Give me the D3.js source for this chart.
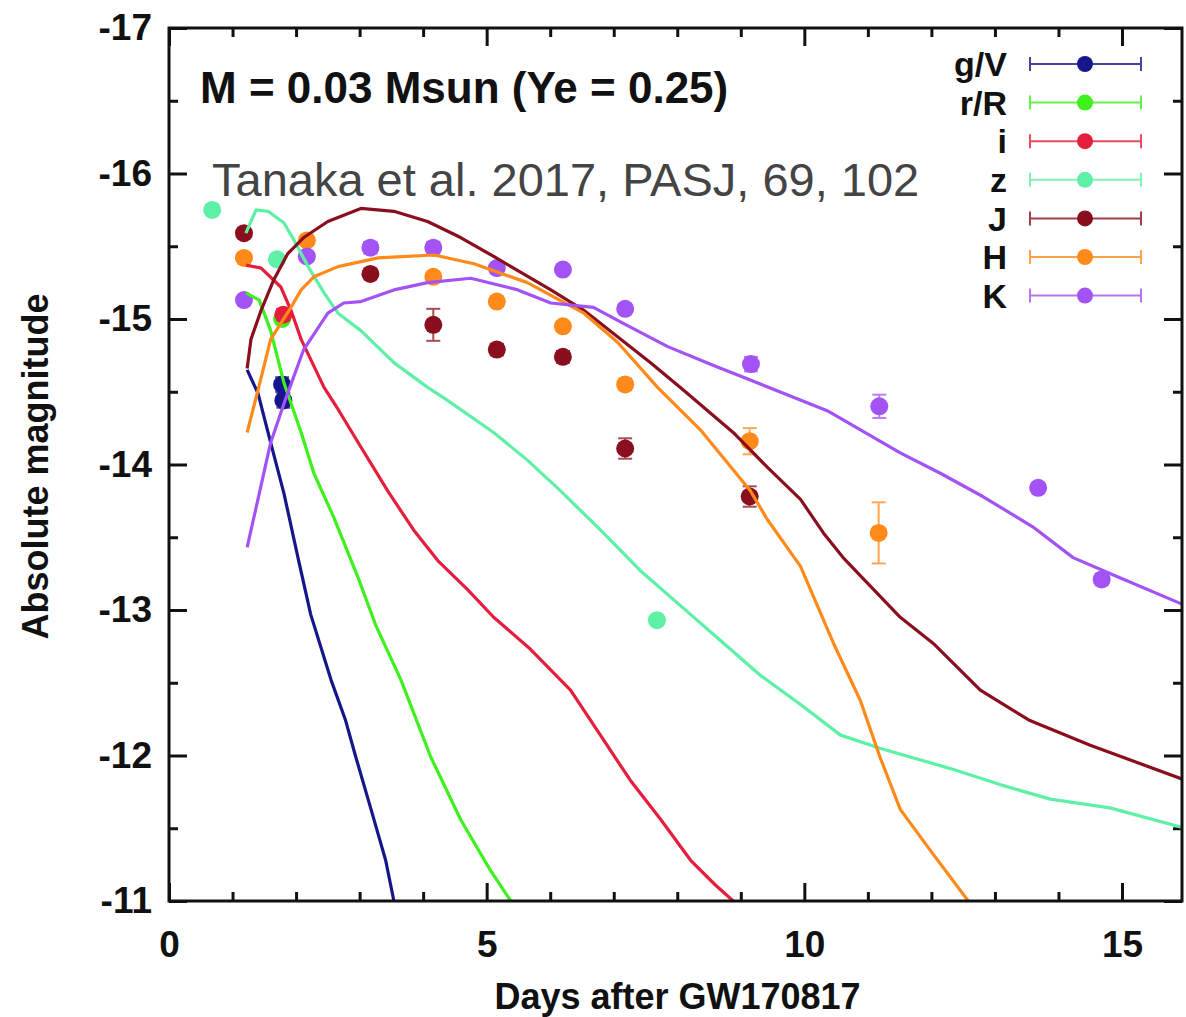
<!DOCTYPE html>
<html>
<head>
<meta charset="utf-8">
<script src="https://cdn.jsdelivr.net/npm/d3@7"></script>
<style>
  html, body { margin: 0; padding: 0; background: #fff; }
  svg { display: block; }
  text { font-family: "Liberation Sans", Arial, Helvetica, sans-serif; }
</style>
</head>
<body>
<svg id="chart" width="1186" height="1017"></svg>
<script>
// ---- Bands ----
const bands = ["g/V", "r/R", "i", "z", "J", "H", "K"];
const bandColors = ["#16168c", "#3ef01c", "#e41e3c", "#5ef0a6", "#8a0f1e", "#ff8a1a", "#a352f5"];

// ---- Axis ticks ----
const xMajorTicks = [0, 5, 10, 15];
const xMinorTicks = [1, 2, 3, 4, 6, 7, 8, 9, 11, 12, 13, 14];
const yMajorTicks = [-17, -16, -15, -14, -13, -12, -11];
const yMinorTicks = [-16.5, -15.5, -14.5, -13.5, -12.5, -11.5];

// ---- Observed photometry (days, absolute magnitude, error) ----
const obsDays_g = [1.78, 1.80];
const obsMag_g  = [-14.55, -14.44];
const obsErr_g  = [0.05, 0.05];

const obsDays_r = [1.78];
const obsMag_r  = [-15.00];
const obsErr_r  = [0.03];

const obsDays_i = [1.80];
const obsMag_i  = [-15.03];
const obsErr_i  = [0.04];

const obsDays_z = [0.68, 1.70, 7.68];
const obsMag_z  = [-15.75, -15.41, -12.93];
const obsErr_z  = [0.03, 0.03, 0.03];

const obsDays_J = [1.18, 3.17, 4.16, 5.16, 6.20, 7.18, 9.14];
const obsMag_J  = [-15.59, -15.31, -14.96, -14.79, -14.74, -14.11, -13.78];
const obsErr_J  = [0.03, 0.03, 0.11, 0.04, 0.04, 0.07, 0.07];

const obsDays_H = [1.18, 2.17, 4.16, 5.16, 6.20, 7.18, 9.14, 11.17];
const obsMag_H  = [-15.42, -15.54, -15.29, -15.12, -14.95, -14.55, -14.16, -13.53];
const obsErr_H  = [0.03, 0.03, 0.03, 0.03, 0.03, 0.04, 0.09, 0.21];

const obsDays_K = [1.18, 2.17, 3.17, 4.16, 5.16, 6.20, 7.18, 9.16, 11.18, 13.68, 14.68];
const obsMag_K  = [-15.13, -15.43, -15.49, -15.49, -15.35, -15.34, -15.07, -14.69, -14.40, -13.84, -13.21];
const obsErr_K  = [0.03, 0.03, 0.04, 0.04, 0.03, 0.03, 0.03, 0.05, 0.08, 0.03, 0.04];

// ---- Model light curves (days, absolute magnitude) ----
const modelDays_g = [1.23, 1.40, 1.60, 1.81, 2.03, 2.23, 2.55, 2.78, 2.94, 3.18, 3.41, 3.54];
const modelMag_g  = [-14.65, -14.49, -14.15, -13.80, -13.36, -12.97, -12.52, -12.24, -11.99, -11.63, -11.28, -11.00];

const modelDays_r = [1.21, 1.42, 1.60, 1.81, 2.08, 2.28, 2.59, 2.97, 3.25, 3.65, 4.12, 4.59, 5.06, 5.38];
const modelMag_r  = [-15.18, -15.13, -14.92, -14.56, -14.22, -13.94, -13.64, -13.23, -12.90, -12.52, -11.99, -11.56, -11.21, -11.00];

const modelDays_i = [1.21, 1.45, 1.76, 1.92, 2.08, 2.44, 2.66, 3.02, 3.44, 3.85, 4.23, 4.70, 5.11, 5.69, 6.32, 6.79, 7.26, 7.74, 8.21, 8.60, 8.88];
const modelMag_i  = [-15.37, -15.35, -15.22, -15.06, -14.86, -14.53, -14.38, -14.12, -13.82, -13.55, -13.34, -13.14, -12.95, -12.73, -12.45, -12.14, -11.83, -11.56, -11.28, -11.11, -11.00];

const modelDays_z = [1.21, 1.37, 1.56, 1.81, 1.97, 2.19, 2.44, 2.66, 3.02, 3.54, 4.07, 4.32, 5.11, 5.64, 6.16, 6.79, 7.42, 8.05, 8.68, 9.31, 9.94, 10.57, 11.19, 12.30, 13.08, 13.87, 14.81, 16.00];
const modelMag_z  = [-15.59, -15.75, -15.74, -15.66, -15.54, -15.36, -15.18, -15.04, -14.92, -14.70, -14.53, -14.46, -14.22, -14.03, -13.82, -13.55, -13.27, -13.03, -12.79, -12.55, -12.35, -12.14, -12.05, -11.91, -11.80, -11.70, -11.64, -11.50];

const modelDays_J = [1.23, 1.29, 1.45, 1.65, 1.87, 2.12, 2.50, 3.02, 3.54, 4.07, 4.59, 5.11, 6.01, 6.53, 7.58, 8.10, 8.88, 9.42, 9.94, 10.30, 10.61, 11.51, 12.03, 12.77, 13.55, 14.50, 16.00];
const modelMag_J  = [-14.66, -14.86, -15.06, -15.27, -15.45, -15.56, -15.67, -15.76, -15.74, -15.67, -15.56, -15.43, -15.20, -15.06, -14.70, -14.51, -14.22, -13.98, -13.76, -13.53, -13.36, -12.95, -12.77, -12.45, -12.24, -12.07, -11.83];

const modelDays_H = [1.23, 1.40, 1.60, 1.92, 2.08, 2.28, 2.66, 3.29, 4.17, 4.80, 5.64, 6.53, 7.06, 7.69, 8.36, 9.15, 9.42, 9.94, 10.46, 10.88, 11.19, 11.51, 11.98, 12.58];
const modelMag_H  = [-14.22, -14.51, -14.86, -15.08, -15.20, -15.29, -15.36, -15.42, -15.44, -15.38, -15.25, -15.04, -14.84, -14.53, -14.24, -13.82, -13.62, -13.30, -12.77, -12.38, -11.99, -11.63, -11.35, -11.00];

const modelDays_K = [1.23, 1.40, 1.60, 1.81, 2.12, 2.50, 2.75, 3.02, 3.54, 4.07, 4.75, 5.49, 6.01, 6.68, 7.15, 7.85, 8.63, 9.15, 9.67, 10.36, 11.51, 12.14, 12.81, 13.60, 14.23, 14.92, 16.00];
const modelMag_K  = [-13.43, -13.76, -14.15, -14.42, -14.79, -15.04, -15.11, -15.12, -15.20, -15.25, -15.28, -15.20, -15.11, -15.08, -14.97, -14.81, -14.67, -14.58, -14.49, -14.37, -14.08, -13.94, -13.78, -13.57, -13.36, -13.23, -13.03];

// ---- Text ----
const titleText = "M = 0.03 Msun (Ye = 0.25)";
const citationText = "Tanaka et al. 2017, PASJ, 69, 102";
const xLabelText = "Days after GW170817";
const yLabelText = "Absolute magnitude";

// ---- Assemble per-band series ----
const obsSeries = [
  [obsDays_g, obsMag_g, obsErr_g], [obsDays_r, obsMag_r, obsErr_r], [obsDays_i, obsMag_i, obsErr_i],
  [obsDays_z, obsMag_z, obsErr_z], [obsDays_J, obsMag_J, obsErr_J], [obsDays_H, obsMag_H, obsErr_H],
  [obsDays_K, obsMag_K, obsErr_K]
].map(([d, m, e], b) => d.map((x, k) => ({ band: b, day: x, mag: m[k], err: e[k] })));

const modelSeries = [
  [modelDays_g, modelMag_g], [modelDays_r, modelMag_r], [modelDays_i, modelMag_i],
  [modelDays_z, modelMag_z], [modelDays_J, modelMag_J], [modelDays_H, modelMag_H],
  [modelDays_K, modelMag_K]
].map(([d, m], b) => ({ band: b, pts: d.map((x, k) => ({ day: x, mag: m[k] })) }));

// ---- Layout ----
const W = 1186, H = 1017;
const plot = { left: 169, top: 28, right: 1182, bottom: 901 };
const dayPx = (1122 - 169) / 15;

const x = d3.scaleLinear().domain([0, (plot.right - plot.left) / dayPx]).range([plot.left, plot.right]);
const y = d3.scaleLinear().domain([-17, -11]).range([plot.top, plot.bottom]);

const svg = d3.select("#chart");

svg.append("defs").append("clipPath").attr("id", "plotClip")
  .append("rect")
  .attr("x", plot.left).attr("y", plot.top)
  .attr("width", plot.right - plot.left).attr("height", plot.bottom - plot.top);

// ---- Axes (ticks point inward on all four sides) ----
const majorLen = 18, minorLen = 9, tickW = 3;

function axisGroup(axis, tx, ty, cls) {
  const g = svg.append("g").attr("class", cls).attr("transform", `translate(${tx},${ty})`).call(axis);
  g.select(".domain").remove();
  g.selectAll(".tick line").attr("stroke", "#111").attr("stroke-width", tickW);
  return g;
}

// bottom: major with labels
const xb = axisGroup(d3.axisBottom(x).tickValues(xMajorTicks).tickSize(-majorLen).tickPadding(30).tickFormat(d3.format("d")), 0, plot.bottom, "x-major");
xb.selectAll(".tick text").attr("font-size", 37).attr("font-weight", "bold").attr("fill", "#111");
axisGroup(d3.axisBottom(x).tickValues(xMinorTicks).tickSize(-minorLen).tickFormat(""), 0, plot.bottom, "x-minor");
// top mirror
axisGroup(d3.axisTop(x).tickValues(xMajorTicks).tickSize(-majorLen).tickFormat(""), 0, plot.top, "x-major-top");
axisGroup(d3.axisTop(x).tickValues(xMinorTicks).tickSize(-minorLen).tickFormat(""), 0, plot.top, "x-minor-top");

// left: major with labels
const yl = axisGroup(d3.axisLeft(y).tickValues(yMajorTicks).tickSize(-majorLen).tickPadding(17).tickFormat(d => "-" + Math.abs(d)), plot.left, 0, "y-major");
yl.selectAll(".tick text").attr("font-size", 37).attr("font-weight", "bold").attr("fill", "#111");
axisGroup(d3.axisLeft(y).tickValues(yMinorTicks).tickSize(-minorLen).tickFormat(""), plot.left, 0, "y-minor");
// right mirror
axisGroup(d3.axisRight(y).tickValues(yMajorTicks).tickSize(-majorLen).tickFormat(""), plot.right, 0, "y-major-right");
axisGroup(d3.axisRight(y).tickValues(yMinorTicks).tickSize(-minorLen).tickFormat(""), plot.right, 0, "y-minor-right");

// ---- Observed points with error bars ----
const capHalf = 7;
const obsLayer = svg.append("g").attr("clip-path", "url(#plotClip)");
obsSeries.forEach(series => {
  const g = obsLayer.append("g");
  const col = bandColors[series[0].band];
  const eb = g.selectAll("g.err").data(series).join("g").attr("class", "err")
    .attr("stroke", col).attr("stroke-width", 2).attr("opacity", 0.75);
  eb.append("line")
    .attr("x1", d => x(d.day)).attr("x2", d => x(d.day))
    .attr("y1", d => y(d.mag - d.err)).attr("y2", d => y(d.mag + d.err));
  eb.append("line")
    .attr("x1", d => x(d.day) - capHalf).attr("x2", d => x(d.day) + capHalf)
    .attr("y1", d => y(d.mag - d.err)).attr("y2", d => y(d.mag - d.err));
  eb.append("line")
    .attr("x1", d => x(d.day) - capHalf).attr("x2", d => x(d.day) + capHalf)
    .attr("y1", d => y(d.mag + d.err)).attr("y2", d => y(d.mag + d.err));
  g.selectAll("circle").data(series).join("circle")
    .attr("cx", d => x(d.day)).attr("cy", d => y(d.mag))
    .attr("r", 9).attr("fill", col);
});

// ---- Model curves ----
const line = d3.line().x(d => x(d.day)).y(d => y(d.mag)).curve(d3.curveLinear);
const modelLayer = svg.append("g").attr("clip-path", "url(#plotClip)");
modelLayer.selectAll("path").data(modelSeries).join("path")
  .attr("d", s => line(s.pts))
  .attr("fill", "none")
  .attr("stroke", s => bandColors[s.band])
  .attr("stroke-width", 3.2)
  .attr("stroke-linejoin", "round");

// ---- Frame ----
svg.append("rect")
  .attr("x", plot.left).attr("y", plot.top)
  .attr("width", plot.right - plot.left).attr("height", plot.bottom - plot.top)
  .attr("fill", "none").attr("stroke", "#111").attr("stroke-width", 3);

// ---- Annotations ----
svg.append("text")
  .attr("x", 200).attr("y", 103)
  .attr("font-size", 44).attr("font-weight", "bold").attr("fill", "#111")
  .text(titleText);

svg.append("text")
  .attr("x", 212).attr("y", 196)
  .attr("font-size", 47).attr("fill", "#444")
  .text(citationText);

// ---- Legend ----
const legend = svg.append("g");
const legTop = 64, legStep = 38.6;
const legLabelX = 1007, legBarX1 = 1030, legBarX2 = 1141, legDotX = 1085;
bands.forEach((name, b) => {
  const ly = legTop + b * legStep;
  const col = bandColors[b];
  legend.append("text")
    .attr("x", legLabelX).attr("y", ly).attr("dy", "0.36em")
    .attr("text-anchor", "end")
    .attr("font-size", 34).attr("font-weight", "bold").attr("fill", "#111")
    .text(name);
  const g = legend.append("g").attr("stroke", col).attr("stroke-width", 2).attr("opacity", 0.8);
  g.append("line").attr("x1", legBarX1).attr("x2", legBarX2).attr("y1", ly).attr("y2", ly);
  g.append("line").attr("x1", legBarX1).attr("x2", legBarX1).attr("y1", ly - capHalf).attr("y2", ly + capHalf);
  g.append("line").attr("x1", legBarX2).attr("x2", legBarX2).attr("y1", ly - capHalf).attr("y2", ly + capHalf);
  legend.append("circle").attr("cx", legDotX).attr("cy", ly).attr("r", 8).attr("fill", col);
});

// ---- Axis titles ----
svg.append("text")
  .attr("x", (plot.left + plot.right) / 2 + 2).attr("y", 1009)
  .attr("text-anchor", "middle")
  .attr("font-size", 36).attr("font-weight", "bold").attr("fill", "#111")
  .text(xLabelText);

svg.append("text")
  .attr("transform", `translate(48, ${(plot.top + plot.bottom) / 2 + 2}) rotate(-90)`)
  .attr("text-anchor", "middle")
  .attr("font-size", 36).attr("font-weight", "bold").attr("fill", "#111")
  .text(yLabelText);
</script>
</body>
</html>
